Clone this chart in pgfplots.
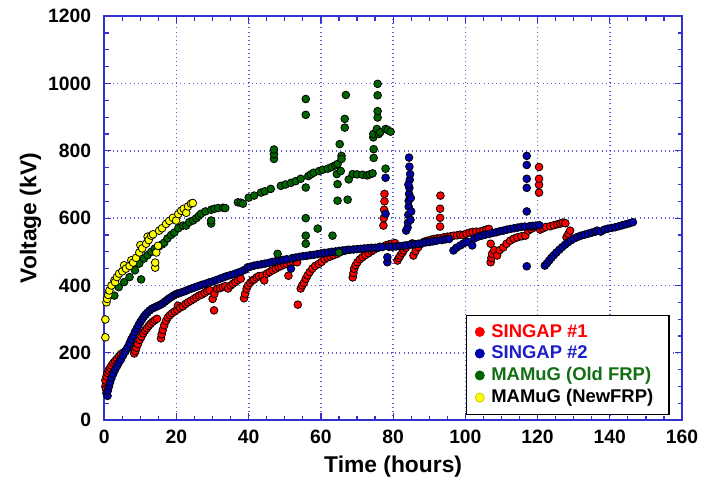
\documentclass[border=0pt]{standalone}
\usepackage{pgfplots}
\pgfplotsset{compat=1.18}
\usepackage{pgfplotstable}
\usepackage{fontspec}
\setmainfont{Liberation Sans}

\definecolor{axblue}{RGB}{50,50,210}
\definecolor{gridblue}{RGB}{95,95,230}
\definecolor{mred}{RGB}{255,0,0}
\definecolor{mblue}{RGB}{0,0,170}
\definecolor{mgreen}{RGB}{0,100,0}
\definecolor{myellow}{RGB}{255,255,0}
\definecolor{lgreen}{RGB}{20,110,20}
\definecolor{lblue}{RGB}{30,30,200}

% SINGAP #1
\pgfplotstableread{
x y
0.3 100
0.3 118
0.5 92
0.6 130
0.9 140
1.2 148
1.6 155
2.0 162
2.5 170
3.0 176
3.5 182
4.1 190
4.6 196
5.2 200
5.8 205
6.4 212
7.0 218
7.5 222
8.0 226
8.3 198
8.6 205
8.9 215
9.3 226
9.8 238
10.3 248
10.8 258
11.3 266
11.8 273
12.3 280
12.8 286
13.4 292
14.0 297
14.6 301
15.7 243
15.9 255
16.2 268
16.6 282
17.1 295
17.6 305
18.2 312
18.8 318
19.5 323
20.2 328
20.4 340
21.0 334
21.8 338
22.5 345
23.2 350
24.0 355
24.8 360
25.5 365
26.3 370
27.0 373
27.8 378
28.5 383
29.2 386
30.0 360
30.4 326
30.5 375
31.2 390
32.0 392
32.8 395
33.5 398
34.3 391
35.0 400
35.6 405
36.3 410
37.0 416
37.8 420
38.7 362
39.0 375
39.4 390
39.8 400
40.4 408
41.0 415
41.5 418
42.2 424
42.8 428
43.8 429
44.3 415
45.0 435
45.8 440
46.6 445
47.5 450
48.3 455
49.0 458
49.8 462
50.5 465
51.0 429
51.5 468
52.3 471
53.0 474
53.4 469
53.6 343
54.4 391
54.8 400
55.3 408
55.8 420
56.3 430
56.9 440
57.6 450
58.4 458
59.4 464
60.2 470
61.0 478
61.8 483
62.6 486
63.5 490
64.5 494
65.5 500
66.5 503
67.5 506
68.8 424
69.0 437
69.2 450
69.6 460
70.1 469
70.8 478
71.5 484
72.3 490
73.2 496
74.0 502
74.6 506
75.5 511
76.3 515
77.3 578
77.4 600
77.5 625
77.6 650
77.6 672
77.9 519
78.8 522
79.6 524
80.5 526
81.2 474
81.6 482
82.0 489
82.5 497
82.9 504
83.5 512
84.4 520
85.3 525
85.6 489
86.2 502
87.0 514
87.8 524
88.6 530
89.5 533
90.5 536
91.3 538
92.2 540
93.0 540
93.0 575
93.0 601
93.0 628
93.1 667
94.0 543
95.0 545
95.9 546
96.8 548
97.7 549
98.6 551
99.4 550
100.3 554
101.2 557
102.0 559
103.0 560
104.0 560
105.0 563
105.8 566
106.5 568
107.0 469
107.0 524
107.2 482
107.4 494
108.0 505
108.8 489
109.5 505
110.5 513
111.4 524
112.4 533
113.4 539
114.4 543
115.5 546
116.6 548
117.4 563
118.2 568
119.0 572
119.8 575
120.4 676
120.4 699
120.4 717
120.4 752
120.7 566
121.5 570
122.3 574
123.5 576
124.5 579
125.5 582
126.3 584
127.0 587
127.7 585
128.0 543
128.5 553
129.0 563
}\singapA

% SINGAP #2
\pgfplotstableread{
x y
0.6 80
0.9 72
1.0 88
1.3 100
1.6 112
2.0 125
2.5 138
3.0 150
3.5 160
4.0 170
4.6 180
5.2 192
5.8 203
6.4 215
7.0 228
7.5 240
8.0 250
8.5 262
9.0 272
9.5 282
10.0 292
10.5 300
11.0 308
11.5 314
12.0 320
12.6 326
13.2 331
13.8 334
14.4 337
15.0 340
15.6 343
16.2 347
16.8 352
17.4 357
18.0 362
18.6 366
19.2 370
19.8 374
20.4 376
21.0 378
21.8 381
22.6 384
23.4 388
24.2 391
25.0 394
26.0 398
27.0 402
28.0 405
29.0 409
30.0 412
31.0 416
32.0 420
33.0 424
34.0 428
35.0 431
36.0 434
37.0 438
38.0 442
39.0 447
39.7 454
40.5 456
41.5 459
42.5 461
43.5 463
44.5 465
45.5 467
46.5 470
47.5 472
48.5 474
49.5 476
50.5 478
51.7 450
52.0 481
53.0 483
54.0 485
55.0 487
56.0 488
57.0 490
58.0 491
59.0 493
60.0 495
61.0 497
62.0 498
63.0 500
64.0 501
65.0 503
66.0 504
67.0 505
68.0 506
69.0 507
70.0 508
71.0 509
72.0 510
73.0 511
74.0 512
75.0 512
76.0 513
77.0 514
77.9 613
77.9 720
78.4 469
78.4 484
78.8 515
79.8 515
80.8 516
81.8 517
82.8 518
83.5 519
83.6 563
84.0 572
84.1 587
84.2 610
84.3 634
84.3 652
84.4 672
84.5 690
84.6 714
84.7 731
84.5 753
84.4 780
84.8 595
85.0 620
84.9 660
84.2 700
85.0 522
86.0 523
87.0 524
88.0 526
89.0 528
90.0 529
91.0 531
92.0 533
93.5 535
94.5 537
95.5 538
96.7 504
97.5 512
98.6 519
99.5 525
100.5 530
101.9 519
102.5 540
103.5 545
104.5 548
105.5 551
106.5 553
107.5 556
108.5 558
109.5 561
110.5 563
111.5 566
112.5 568
113.5 570
114.5 572
115.5 574
116.5 575
117.0 785
117.0 758
117.0 717
117.0 690
117.0 620
117.0 457
117.8 576
118.6 577
119.5 578
120.5 579
122.0 459
122.6 466
123.2 474
123.8 482
124.5 490
125.2 498
126.0 506
126.8 514
127.6 521
128.4 528
129.2 534
130.0 539
131.0 544
132.0 548
133.0 551
134.0 554
135.0 557
136.0 560
136.5 563
137.5 560
138.5 566
139.5 569
140.5 571
141.5 573
142.5 576
143.5 579
144.5 582
145.5 585
146.4 588
}\singapB

% MAMuG (Old FRP)
\pgfplotstableread{
x y
2.8 370
4.0 395
5.5 410
7.0 425
8.5 445
9.7 465
10.2 418
11.0 480
12.0 490
13.0 500
14.0 510
15.0 515
16.0 522
16.6 527
17.5 540
18.5 550
19.4 557
20.5 570
21.8 578
22.7 578
23.5 588
24.6 593
25.5 600
26.2 607
26.8 613
28.0 620
29.6 625
29.6 584
29.6 593
30.5 628
31.5 630
32.9 631
33.5 630
37.0 647
37.8 646
38.4 643
40.0 661
41.5 667
43.4 676
44.5 680
46.1 687
47.0 776
47.0 790
47.0 804
48.0 494
48.9 696
50.2 700
51.7 705
53.0 710
54.4 717
55.8 524
55.8 548
55.8 600
55.8 691
55.8 907
55.8 954
56.5 725
57.2 730
58.0 735
59.1 569
59.5 740
60.5 744
61.9 747
63.0 752
63.2 548
64.0 757
64.6 761
64.4 731
65.5 740
64.6 652
64.6 701
65.0 498
65.2 820
65.7 785
65.7 776
66.6 869
66.6 895
66.9 966
67.4 655
67.7 715
68.8 731
70.0 730
71.5 729
72.8 727
73.5 730
74.3 733
74.6 779
74.6 805
74.5 840
74.5 850
75.5 865
75.7 899
75.7 918
75.7 965
75.7 999
76.0 850
76.4 855
77.9 747
77.9 865
78.5 862
79.3 857
}\mamugOld

% MAMuG (NewFRP)
\pgfplotstableread{
x y
0.3 246
0.3 299
0.6 350
0.8 360
1.1 372
1.4 385
2.0 400
2.8 415
3.0 410
3.5 425
4.1 435
5.0 442
5.5 460
6.0 450
7.0 458
7.5 475
8.0 468
8.8 482
9.7 498
10.0 520
10.5 510
11.6 524
12.0 545
12.3 535
13.0 548
13.5 552
14.1 453
14.1 468
14.4 498
14.9 518
15.2 563
16.0 570
17.1 583
18.0 592
19.0 601
19.9 593
20.5 612
21.3 622
22.0 628
22.7 616
23.2 635
24.0 643
24.5 645
}\mamugNew

\begin{document}
\begin{tikzpicture}
\begin{axis}[
  width=329pt, height=230pt, scale only axis,
  xmin=0, xmax=160, ymin=0, ymax=1200,
  xtick={0,20,...,160}, ytick={0,200,...,1200},
  minor x tick num=3, minor y tick num=3,
  tick align=inside,
  major tick length=4pt, minor tick length=2.5pt,
  axis line style={axblue, line width=0.9pt},
  every tick/.style={axblue, line width=0.7pt},
  grid=major,
  major grid style={gridblue, dotted, line width=0.9pt},
  ticklabel style={font=\bfseries\fontsize{11}{13}\selectfont},
  yticklabel style={xshift=-4pt},
  xticklabel style={yshift=-2pt},
  /pgf/number format/assume math mode=true,
  /pgf/number format/1000 sep={},
  xlabel={Time (hours)}, ylabel={Voltage (kV)},
  label style={font=\bfseries\fontsize{13}{15}\selectfont},
  ylabel style={yshift=-3pt},
  legend cell align=left,
  legend style={at={(0.979,0.012)}, anchor=south east, draw=black,
    line width=1pt, font=\bfseries\fontsize{10.5}{12}\selectfont,
    row sep=-0.5pt, inner xsep=5pt, inner ysep=3pt,
    nodes={inner xsep=4pt}},
  every axis plot/.append style={only marks, mark=*, mark size=2.2pt,
    draw=black, line width=0.45pt},
]
\addplot[fill=mred, legend image post style={draw=mred, mark size=2.6pt}] table {\singapA};
\addlegendentry{\textcolor{mred}{SINGAP \#1}}
\addplot[fill=mblue, legend image post style={draw=mblue, mark size=2.6pt}] table {\singapB};
\addlegendentry{\textcolor{lblue}{SINGAP \#2}}
\addplot[fill=mgreen, legend image post style={draw=mgreen, mark size=2.6pt}] table {\mamugOld};
\addlegendentry{\textcolor{lgreen}{MAMuG (Old FRP)}}
\addplot[fill=myellow, legend image post style={draw=myellow!80!black, mark size=2.6pt}] table {\mamugNew};
\addlegendentry{MAMuG (NewFRP)}
\end{axis}
% white margin as in the reference
\path (current bounding box.south west) ++(-8pt,-3pt);
\path (current bounding box.north east) ++(0pt,2pt);
\end{tikzpicture}
\end{document}
